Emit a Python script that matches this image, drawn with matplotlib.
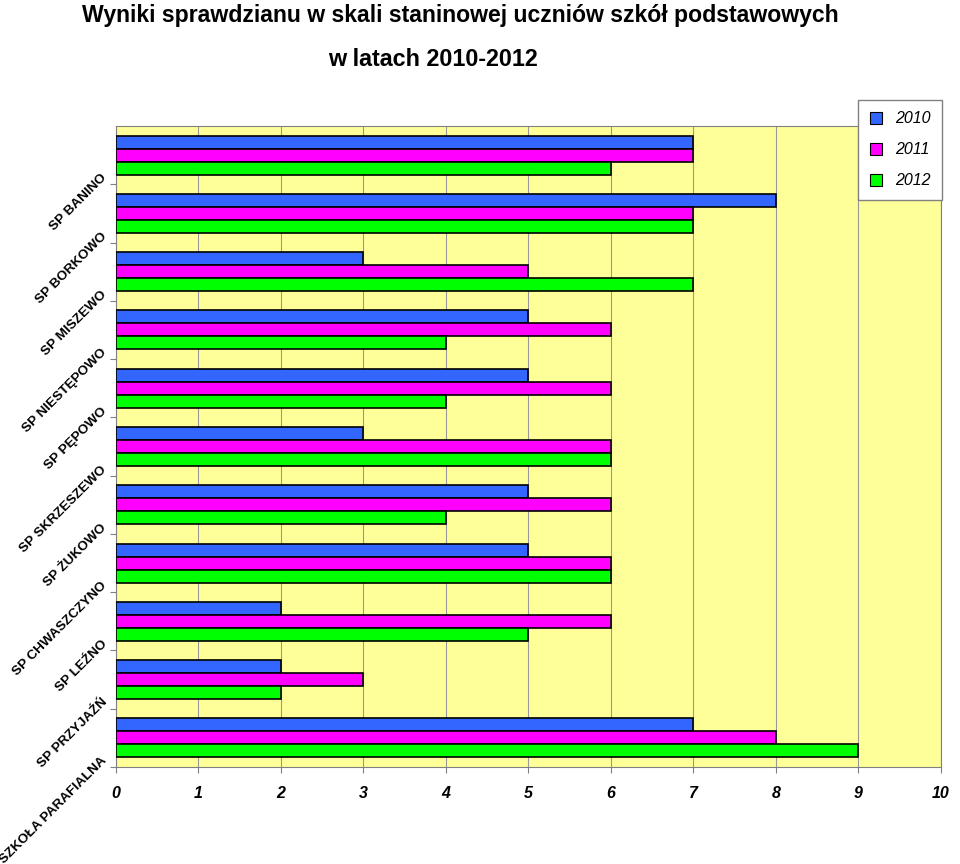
import matplotlib
matplotlib.use("Agg")
import matplotlib.pyplot as plt
import matplotlib.transforms as mtransforms
import numpy as np

plt.rcParams['font.family'] = ['Liberation Sans', 'DejaVu Sans']

schools = ["SP BANINO", "SP BORKOWO", "SP MISZEWO", "SP NIESTĘPOWO", "SP PĘPOWO",
           "SP SKRZESZEWO", "SP ŻUKOWO", "SP CHWASZCZYNO", "SP LEŹNO",
           "SP PRZYJAŹŃ", "SZKOŁA PARAFIALNA"]
years = ["2010", "2011", "2012"]
v2010 = [7, 8, 3, 5, 5, 3, 5, 5, 2, 2, 7]
v2011 = [7, 7, 5, 6, 6, 6, 6, 6, 6, 3, 8]
v2012 = [6, 7, 7, 4, 4, 6, 4, 6, 5, 2, 9]
colors = ["#3366FF", "#FF00FF", "#00FF00"]

fig = plt.figure(figsize=(9.6, 8.64), dpi=100)
ax = fig.add_axes([0.1208, 0.1123, 0.8594, 0.7419])
ax.set_facecolor("#FFFF99")

y = np.arange(len(schools))
h = 0.223
for k, (vals, c, lab) in enumerate(zip([v2010, v2011, v2012], colors, years)):
    ax.barh(y + (k - 1) * h, vals, height=h, color=c, edgecolor="black",
            linewidth=1.2, label=lab, zorder=3)

ax.set_xlim(0, 10)
ax.set_ylim(len(schools) - 0.5, -0.5)
ax.set_xticks(range(11))
ax.xaxis.grid(True, color="#999999", linewidth=0.8, zorder=0)
ax.tick_params(axis="x", labelsize=11.5, pad=10, length=4, color="#808080")
for t in ax.get_xticklabels():
    t.set_fontstyle("italic")
    t.set_fontweight("bold")

ax.set_yticks(y + 0.5)
ax.set_yticklabels(schools, rotation=45, ha="right", va="center",
                   rotation_mode="anchor", fontsize=9.7, fontweight="bold")
ax.tick_params(axis="y", length=4, color="#808080", pad=6)
shift = mtransforms.ScaledTranslation(3 / 100, 8 / 100, fig.dpi_scale_trans)
for t in ax.get_yticklabels():
    t.set_transform(t.get_transform() + shift)
for s in ax.spines.values():
    s.set_color("#808080")

fig.text(0.48, 0.982, "Wyniki sprawdzianu w skali staninowej uczniów szkół podstawowych",
         ha="center", va="center", fontsize=16.6, fontweight="bold")
fig.text(0.451, 0.931, "w latach 2010-2012", ha="center", va="center",
         fontsize=16.8, fontweight="bold")

leg = fig.legend(loc="upper right", bbox_to_anchor=(0.981, 0.884), fancybox=False,
                 edgecolor="#808080", framealpha=1, handlelength=0.8,
                 handleheight=0.8, labelspacing=1.0, borderpad=0.7,
                 borderaxespad=0, prop={"size": 11.5, "style": "italic"})
for hnd in leg.legend_handles:
    hnd.set_linewidth(0.8)

fig.savefig("out.png", dpi=100)
